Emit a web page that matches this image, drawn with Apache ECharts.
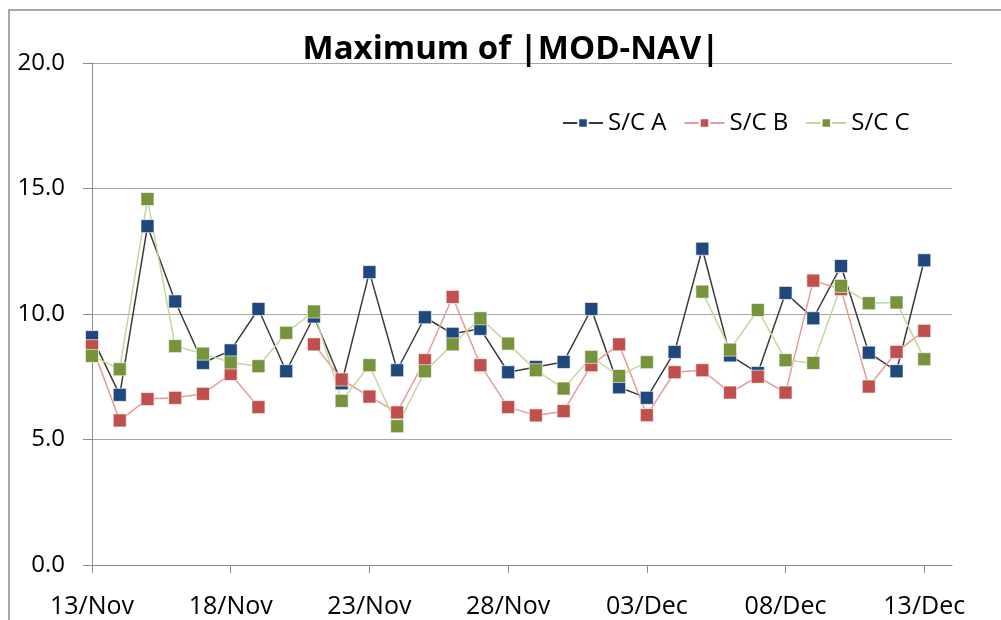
<!DOCTYPE html>
<html>
<head>
<meta charset="utf-8">
<script src="https://cdn.jsdelivr.net/npm/echarts@6/dist/echarts.min.js"></script>
<style>
  html, body { margin: 0; padding: 0; background: #fff; }
  #chart { width: 1001px; height: 620px; }
</style>
</head>
<body>
<div id="chart"></div>
<script>
// day labels, 13/Nov .. 14/Dec (last one only pads the axis)
var days = ['13/Nov', '14/Nov', '15/Nov', '16/Nov', '17/Nov', '18/Nov', '19/Nov', '20/Nov',
  '21/Nov', '22/Nov', '23/Nov', '24/Nov', '25/Nov', '26/Nov', '27/Nov', '28/Nov', '29/Nov',
  '30/Nov', '01/Dec', '02/Dec', '03/Dec', '04/Dec', '05/Dec', '06/Dec', '07/Dec', '08/Dec',
  '09/Dec', '10/Dec', '11/Dec', '12/Dec', '13/Dec', '14/Dec']

var scA = [9.08, 6.78, 13.5, 10.5, 8.05, 8.55, 10.2, 7.72, 9.9, 7.24, 11.67, 7.76, 9.87, 9.21, 9.41, 7.68,
  7.89, 8.09, 10.2, 7.08, 6.66, 8.49, 12.6, 8.35, 7.65, 10.84, 9.83, 11.91, 8.46, 7.72, 12.14]
var scB = [8.72, 5.76, 6.61, 6.66, 6.82, 7.61, 6.29, null, 8.79, 7.39, 6.71, 6.08, 8.16, 10.68, 7.96, 6.29,
  5.96, 6.13, 7.96, 8.79, 5.97, 7.68, 7.76, 6.87, 7.5, 6.87, 11.33, 10.99, 7.11, 8.49, 9.33]
var scC = [8.33, 7.8, 14.58, 8.72, 8.42, 8.07, 7.92, 9.25, 10.1, 6.54, 7.96, 5.53, 7.72, 8.79, 9.83, 8.82,
  7.76, 7.03, 8.29, 7.53, 8.08, null, 10.89, 8.58, 10.16, 8.16, 8.05, 11.12, 10.43, 10.46, 8.2]

var font = '"Open Sans", "Noto Sans", sans-serif'

// every 5th day gets a tick and a label
function every5(i) { return i % 5 === 0 }

function lineSeries(name, data, markColor, lineColor) {
  return {
    name: name,
    type: 'line',
    data: data,
    symbol: 'rect',
    symbolSize: 13,
    showAllSymbol: true,
    connectNulls: false,
    lineStyle: { color: lineColor, width: 1.5 },
    itemStyle: { color: markColor, borderColor: '#ffffff', borderWidth: 0.6 }
  }
}

var chart = echarts.init(document.getElementById('chart'))
chart.setOption({
  backgroundColor: '#ffffff',
  animation: false,
  graphic: [{
    type: 'rect',
    shape: { x: 9, y: 10, width: 1100, height: 700 },
    style: { fill: 'none', stroke: '#8c8c8c', lineWidth: 1.5 },
    silent: true
  }],
  title: {
    text: 'Maximum of |MOD-NAV|',
    left: 506,
    textAlign: 'center',
    top: 28,
    textStyle: { fontFamily: font, fontWeight: 'bold', fontSize: 33, color: '#000' }
  },
  legend: {
    left: 562,
    top: 111,
    padding: 0,
    itemWidth: 40,
    itemHeight: 12,
    itemGap: 17,
    textStyle: { fontFamily: font, fontSize: 24, color: '#000' },
    data: ['S/C A', 'S/C B', 'S/C C']
  },
  grid: { left: 92, right: 49, top: 63, bottom: 55, containLabel: false },
  xAxis: {
    type: 'category',
    data: days,
    boundaryGap: false,
    axisLine: { lineStyle: { color: '#8c8c8c', width: 1 } },
    axisTick: { interval: every5, length: 8, lineStyle: { color: '#8c8c8c' } },
    axisLabel: {
      interval: every5,
      hideOverlap: false,
      margin: 29,
      fontFamily: font,
      fontSize: 25,
      color: '#000'
    },
    splitLine: { show: false }
  },
  yAxis: {
    type: 'value',
    min: 0,
    max: 20,
    interval: 5,
    axisLine: { show: true, lineStyle: { color: '#8c8c8c', width: 1 } },
    axisTick: { show: true, length: 9, lineStyle: { color: '#8c8c8c' } },
    axisLabel: {
      margin: 27,
      fontFamily: font,
      fontSize: 24,
      color: '#000',
      formatter: function (v) { return v.toFixed(1) }
    },
    splitLine: { lineStyle: { color: '#a6a6a6', width: 1 } }
  },
  series: [
    lineSeries('S/C A', scA, '#1F497D', '#3a3a3a'),
    lineSeries('S/C B', scB, '#C0504D', '#E49B99'),
    lineSeries('S/C C', scC, '#77933C', '#C3D69B')
  ]
})
</script>
</body>
</html>
